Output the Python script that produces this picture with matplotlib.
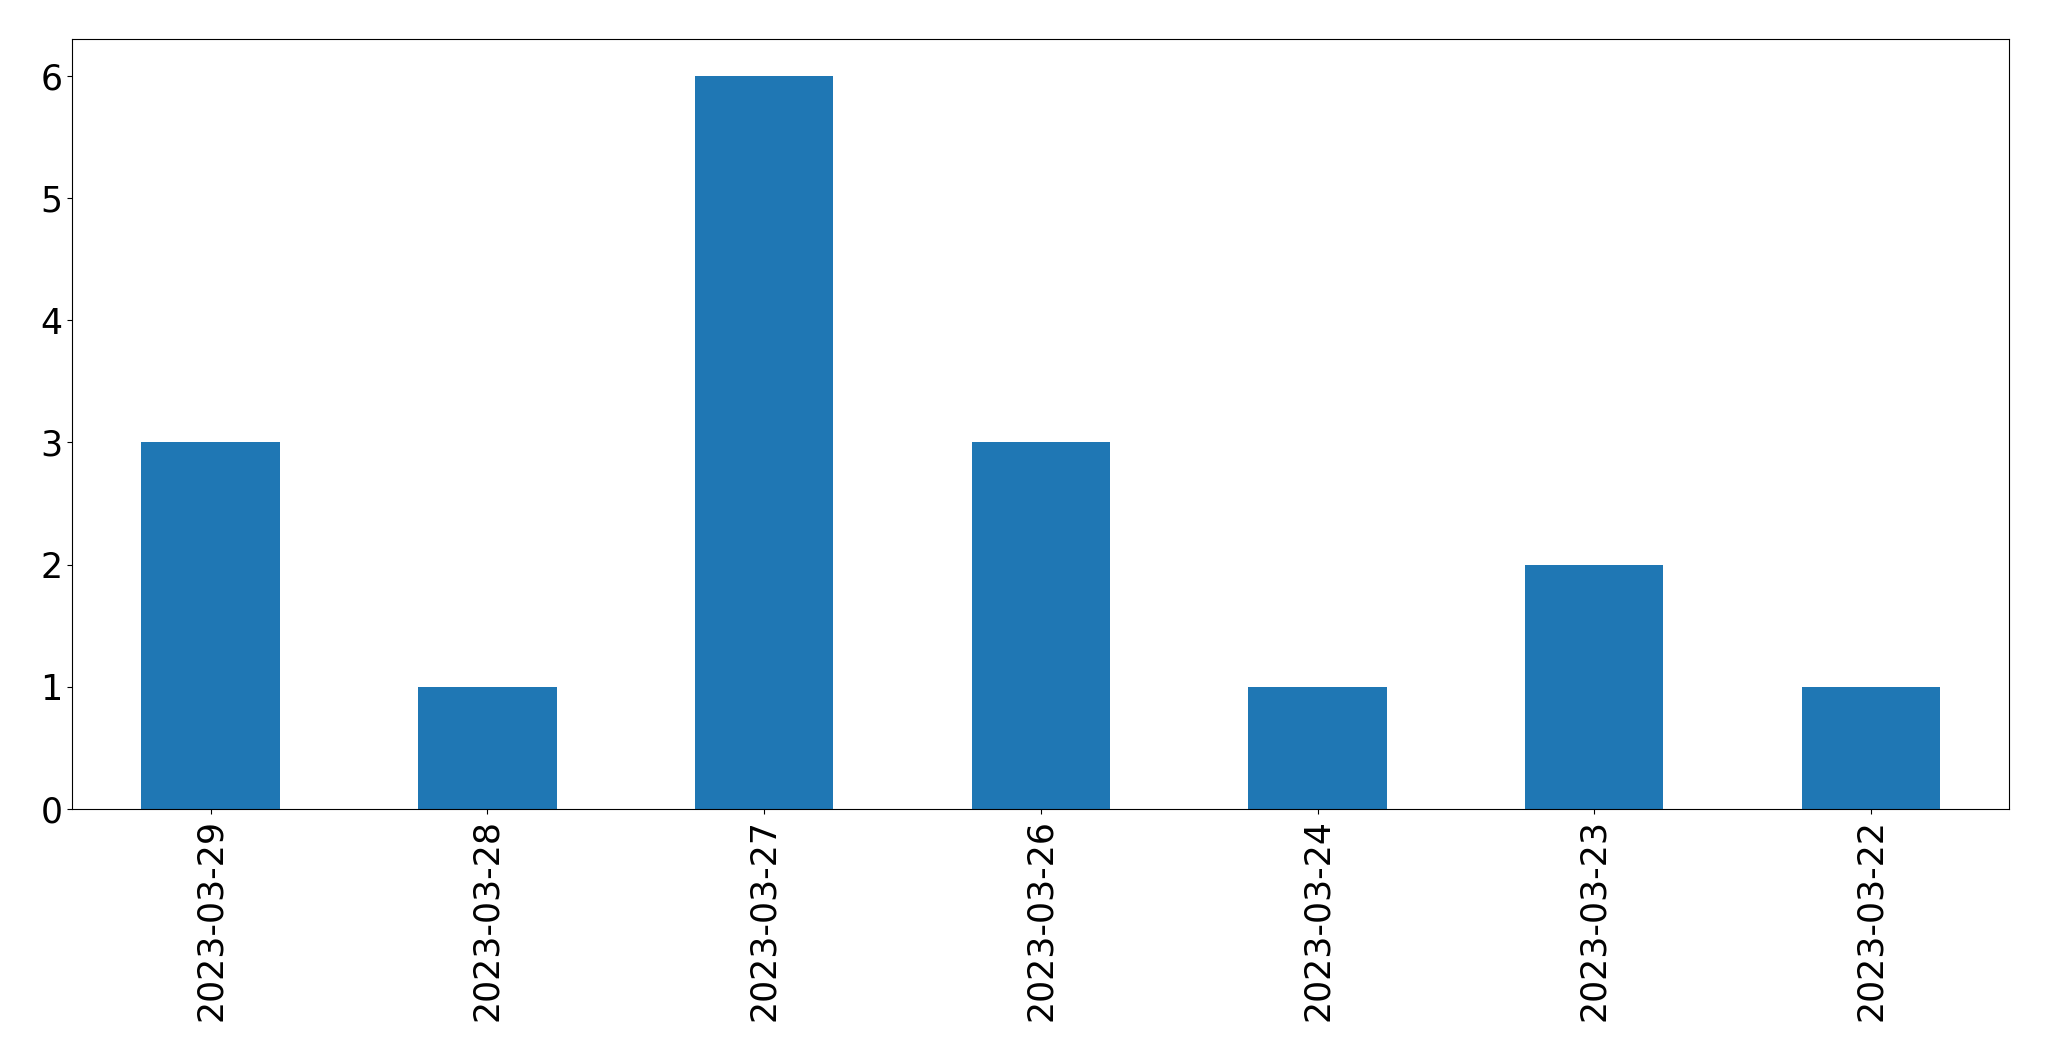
import matplotlib
matplotlib.use("Agg")
import matplotlib.pyplot as plt
import pandas as pd

dates = ["2023-03-29", "2023-03-28", "2023-03-27", "2023-03-26",
         "2023-03-24", "2023-03-23", "2023-03-22"]
counts = [3, 1, 6, 3, 1, 2, 1]

W, H = 2049, 1061
fig = plt.figure(figsize=(W / 100, H / 100), dpi=100)
ax = fig.add_axes([72.3 / W, 1 - 809 / H, (2009.3 - 72.3) / W, (809 - 39.3) / H])

s = pd.Series(counts, index=dates)
s.plot(kind="bar", ax=ax, color="#1f77b4", fontsize=25)

fig.savefig("out.png", dpi=100)
plt.close(fig)
